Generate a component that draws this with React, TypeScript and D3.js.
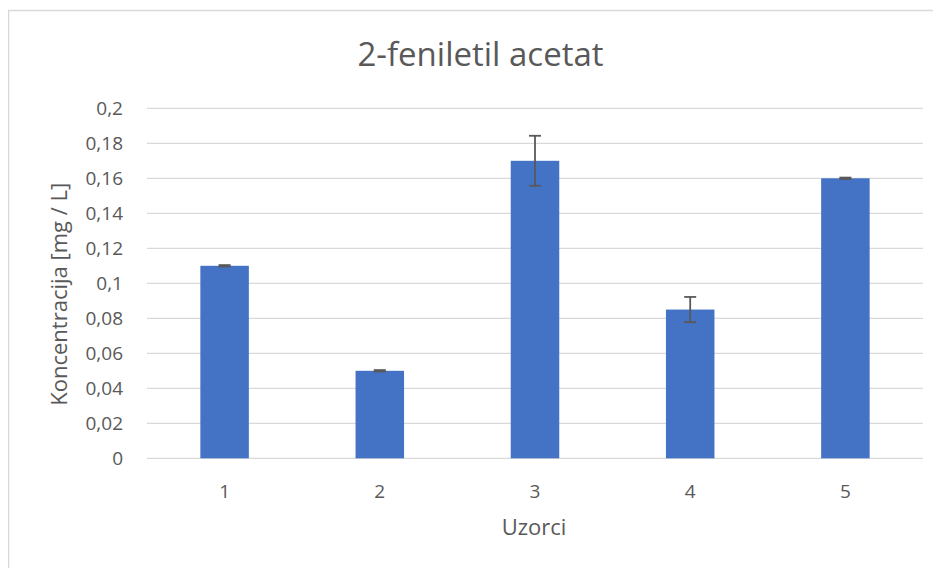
import React, { useEffect, useRef } from 'react';
import * as d3 from 'd3';

const categories = ['1', '2', '3', '4', '5'];
const values = [0.11, 0.05, 0.17, 0.085, 0.16];
const errors = [0.0004, 0.0004, 0.0143, 0.0072, 0.0004];
const yTicks = [0, 0.02, 0.04, 0.06, 0.08, 0.1, 0.12, 0.14, 0.16, 0.18, 0.2];

const App = () => {
  const svgRef = useRef<SVGSVGElement>(null);

  useEffect(() => {
    const svg = d3.select(svgRef.current);
    svg.selectAll('*').remove();
    const font = '"Open Sans", "Noto Sans", sans-serif';

    const margin = { left: 139, top: 100.3, right: 18, bottom: 109.7 };
    const width = 941 - 8;
    const height = 568 - 8;
    const innerW = width - margin.left - margin.right;
    const innerH = height - margin.top - margin.bottom;

    // chart frame
    svg.append('rect')
      .attr('x', 0.5)
      .attr('y', 2.5)
      .attr('width', width + 20)
      .attr('height', height + 20)
      .attr('fill', 'white')
      .attr('stroke', '#d9d9d9')
      .attr('stroke-width', 1.5);

    const g = svg.append('g').attr('transform', `translate(${margin.left}, ${margin.top})`);

    const x = d3.scaleBand().domain(categories).range([0, innerW]).padding(0);
    const y = d3.scaleLinear().domain([0, 0.2]).range([innerH, 0]);
    const barW = x.bandwidth() * 0.3125;

    // gridlines
    g.selectAll('line.grid')
      .data(yTicks)
      .enter()
      .append('line')
      .attr('class', 'grid')
      .attr('x1', 0)
      .attr('x2', innerW)
      .attr('y1', (d) => y(d))
      .attr('y2', (d) => y(d))
      .attr('stroke', '#d9d9d9')
      .attr('stroke-width', 1.3);

    // y tick labels
    g.selectAll('text.ytick')
      .data(yTicks)
      .enter()
      .append('text')
      .attr('class', 'ytick')
      .attr('x', -24)
      .attr('y', (d) => y(d))
      .attr('dy', '0.36em')
      .attr('text-anchor', 'end')
      .attr('font-family', font)
      .attr('font-size', '19px')
      .attr('fill', '#595959')
      .text((d) => String(d).replace('.', ','));

    // bars
    g.selectAll('rect.bar')
      .data(values)
      .enter()
      .append('rect')
      .attr('class', 'bar')
      .attr('x', (d, i) => (x(categories[i]) as number) + x.bandwidth() / 2 - barW / 2)
      .attr('y', (d) => y(d))
      .attr('width', barW)
      .attr('height', (d) => innerH - y(d))
      .attr('fill', '#4472c4');

    // error bars
    const eb = g.selectAll('g.err')
      .data(values)
      .enter()
      .append('g')
      .attr('class', 'err')
      .attr('transform', (d, i) => `translate(${(x(categories[i]) as number) + x.bandwidth() / 2}, 0)`)
      .attr('stroke', '#595959')
      .attr('stroke-width', 1.8);
    eb.append('line')
      .attr('y1', (d, i) => y(d + errors[i]))
      .attr('y2', (d, i) => y(d - errors[i]));
    eb.append('line')
      .attr('x1', -6)
      .attr('x2', 6)
      .attr('y1', (d, i) => y(d + errors[i]))
      .attr('y2', (d, i) => y(d + errors[i]));
    eb.append('line')
      .attr('x1', -6)
      .attr('x2', 6)
      .attr('y1', (d, i) => y(d - errors[i]))
      .attr('y2', (d, i) => y(d - errors[i]));

    // x tick labels
    g.selectAll('text.xtick')
      .data(categories)
      .enter()
      .append('text')
      .attr('class', 'xtick')
      .attr('x', (d) => (x(d) as number) + x.bandwidth() / 2)
      .attr('y', innerH + 39.5)
      .attr('text-anchor', 'middle')
      .attr('font-family', font)
      .attr('font-size', '19px')
      .attr('fill', '#595959')
      .text((d) => d);

    // title
    svg.append('text')
      .attr('x', 472.5)
      .attr('y', 58)
      .attr('text-anchor', 'middle')
      .attr('font-family', font)
      .attr('font-size', '33px')
      .attr('fill', '#595959')
      .text('2-feniletil acetat');

    // x axis title
    g.append('text')
      .attr('x', innerW / 2 - 1)
      .attr('y', innerH + 76.5)
      .attr('text-anchor', 'middle')
      .attr('font-family', font)
      .attr('font-size', '22px')
      .attr('fill', '#595959')
      .text('Uzorci');

    // y axis title
    g.append('text')
      .attr('transform', `translate(${-88}, ${186}) rotate(-90)`)
      .attr('text-anchor', 'middle')
      .attr('dy', '0.36em')
      .attr('font-family', font)
      .attr('font-size', '22px')
      .attr('fill', '#595959')
      .text('Koncentracija [mg / L]');
  }, []);

  return (
    <div>
      <svg ref={svgRef} width={933} height={560} style={{ display: 'block' }}></svg>
    </div>
  );
};

export default App;
